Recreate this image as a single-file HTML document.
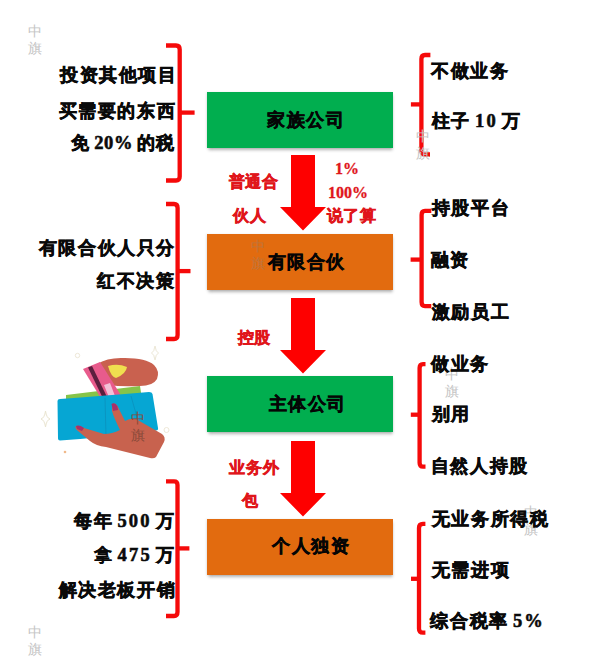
<!DOCTYPE html>
<html><head><meta charset="utf-8">
<style>
html,body{margin:0;padding:0;background:#fff;}
body{width:607px;height:662px;position:relative;overflow:hidden;font-family:"Liberation Sans",sans-serif;}
.t{position:absolute;white-space:nowrap;font-weight:bold;color:#0a0a0a;-webkit-text-stroke:0.6px currentColor;font-size:18px;line-height:20px;letter-spacing:1.6px;word-spacing:-2.5px;}
.red{color:#e0161b;font-size:16px;letter-spacing:0.8px;}
.bx{font-size:18px;letter-spacing:1.6px;color:#050505;-webkit-text-stroke:0.5px currentColor;}
.n{font-family:"Liberation Serif",serif;font-weight:bold;letter-spacing:2.2px;font-size:18.5px;-webkit-text-stroke:0.55px currentColor;}
.red .n{letter-spacing:0;font-size:16px;-webkit-text-stroke:0.3px currentColor;}
.box{position:absolute;left:207px;width:186px;height:56px;box-shadow:0 2.5px 3px -0.5px rgba(0,0,0,0.3),-1px 0 2px rgba(0,0,0,0.08);}
.g{background:#01ae4f;}
.o{background:#e26b0f;}
.wm{position:absolute;font-size:14px;line-height:17px;color:#c4c4c4;font-family:"Liberation Serif",serif;}
.wo{color:#c0743a;}
.wb{color:#8a4a3a;}
svg{position:absolute;left:0;top:0;}
</style></head><body>
<div class="box g" style="top:92px"></div>
<div class="box o" style="top:234px"></div>
<div class="box g" style="top:376px"></div>
<div class="box o" style="top:519px"></div>

<svg width="607" height="662" viewBox="0 0 607 662">
  <g fill="#fe0000">
    <path d="M291 155H315V207H326L303 230.5L280 207H291Z"/>
    <path d="M291 298H315V350H326L303 373.5L280 350H291Z"/>
    <path d="M291 441H315V493H326L303 516.5L280 493H291Z"/>
  </g>
  <g fill="none" stroke="#f50a0a" stroke-width="4.3" stroke-linejoin="round" stroke-linecap="butt">
    <path d="M166 45.5H176Q179.7 45.5 179.7 49.5V176.5Q179.7 180.5 176 180.5H166"/>
    <path d="M179.7 112.6H194.6"/>
    <path d="M166 204H174Q177.6 204 177.6 208V335Q177.6 339 174 339H166"/>
    <path d="M177.6 271.1H190.5"/>
    <path d="M166 481.4H174Q177.5 481.4 177.5 485V612Q177.5 616 174 616H166"/>
    <path d="M177.5 548.4H189.4"/>
    <path d="M430.4 55H425Q421.4 55 421.4 59V150.5Q421.4 154.5 425 154.5H430"/>
    <path d="M421.4 104.4H410.9"/>
    <path d="M431.3 210.9H425Q421.6 210.9 421.6 215V302Q421.6 306.1 425 306.1H431.3"/>
    <path d="M421.6 259.6H410.6"/>
    <path d="M425.5 364.1H423Q419.6 364.1 419.6 368V462.7Q419.6 466.7 423 466.7H425.5"/>
    <path d="M419.6 414.7H410.8"/>
    <path d="M425.4 523.8H423Q419 523.8 419 528V628.7Q419 632.7 423 632.7H425.4"/>
    <path d="M419 578.8H411"/>
  </g>
</svg>

<svg width="607" height="662" viewBox="0 0 607 662">
  <g>
    <!-- sparkles -->
    <path d="M45.5 411Q46.5 418 50 419Q46.5 420 45.5 427Q44.5 420 41 419Q44.5 418 45.5 411Z" fill="none" stroke="#e9e4cf" stroke-width="1"/>
    <path d="M155 346Q155.8 352 158.5 353Q155.8 354 155 360Q154.2 354 151.5 353Q154.2 352 155 346Z" fill="none" stroke="#ece7d6" stroke-width="1"/>
    <circle cx="77.5" cy="355.5" r="2.2" fill="none" stroke="#eee8d8" stroke-width="1"/>
    <circle cx="166.5" cy="430" r="2.5" fill="none" stroke="#eee8d8" stroke-width="1"/>
    <circle cx="65" cy="452" r="1.3" fill="#f0b98a"/>
    <!-- green money -->
    <path d="M66 395L140 386L142 399L66 402Z" fill="#86c449"/>
    <!-- top hand -->
    <path d="M97 364Q108 357 125 358Q146 358 154 365Q160 371 157 379Q153 386 140 386Q122 387 108 385L101 372Z" fill="#c9614f"/>
    <!-- card -->
    <path d="M83 369L100 362L120.5 394.5L102 400Z" fill="#e85b8c"/>
    <path d="M88 367.5L92 366L107.5 398L103.5 399.5Z" fill="#5b1f3e"/>
    <path d="M104 385L110 383L115 396L109 397.5Z" fill="#f3c0d8"/>
    <path d="M108 366Q118 363 127 367Q126 374 116 378Q111 377 108 366Z" fill="#f0df4f"/>
    <!-- wallet -->
    <path d="M60 399Q100 396 149 392Q152 392 152.5 394L158 428Q158.5 430 156 430.5Q110 437 60 440.5Q58 440.5 58 438.5L57.5 401Q57.5 399 60 399Z" fill="#06a6d3"/>
    <path d="M105 398L106 436" stroke="#0a90bd" stroke-width="0.8" fill="none"/>
    <path d="M131 396L140 428" stroke="#0a90bd" stroke-width="0.8" fill="none"/>
    <!-- bottom hand -->
    <path d="M112 404Q116 402 118 407L125 421Q130 418 136 419L162 434Q166 437 164 442L156 457Q154 459 150 458L106 447Q96 446 90 441L78 431Q74 428 76 426Q79 425 84 428L104 434Q112 434 120 430Q114 418 112 411Z" fill="#c8624e"/>
    <path d="M111.5 404Q115 401.5 117.5 406.5L118 410L113 411Z" fill="#a8306a"/>
    <path d="M76 426Q79 424.5 84 428L82 431L77 429Z" fill="#a8306a"/>
  </g>
</svg>
<div class="wm" style="left:28px;top:23px">中<br>旗</div>
<div class="wm wo" style="left:251px;top:238px">中<br>旗</div>
<div class="wm" style="left:416px;top:128px">中<br>旗</div>
<div class="wm" style="left:445px;top:366px">中<br>旗</div>
<div class="wm wb" style="left:131px;top:410px">中<br>旗</div>
<div class="wm" style="left:524px;top:504px">中<br>旗</div>
<div class="wm" style="left:28px;top:624px">中<br>旗</div>

<div class="t" style="left:60.1px;top:64.9px">投资其他项目</div>
<div class="t" style="left:58.6px;top:100.5px">买需要的东西</div>
<div class="t" style="left:70.5px;top:133.2px">免 <span class=n style="letter-spacing:0.6px;margin-right:3.5px">20%</span>的税</div>
<div class="t" style="left:38.9px;top:237.6px">有限合伙人只分</div>
<div class="t" style="left:97.2px;top:270.5px">红不决策</div>
<div class="t" style="left:74.1px;top:511.4px">每年 <span class=n>500</span> 万</div>
<div class="t" style="left:93.9px;top:545.2px"><span style="-webkit-text-stroke:0.15px">拿</span> <span class=n>475</span> 万</div>
<div class="t" style="left:58.6px;top:580.4px">解决老板开销</div>
<div class="t bx" style="left:267.3px;top:109.7px">家族公司</div>
<div class="t bx" style="left:267.7px;top:252.3px">有限合伙</div>
<div class="t bx" style="left:268.7px;top:394.3px">主体公司</div>
<div class="t bx" style="left:272.1px;top:536.3px">个人独资</div>
<div class="t red" style="left:228.6px;top:172.3px">普通合</div>
<div class="t red" style="left:233.1px;top:205.9px">伙人</div>
<div class="t red" style="left:334.9px;top:158.9px"><span class=n>1%</span></div>
<div class="t red" style="left:328.0px;top:182.8px"><span class=n>100%</span></div>
<div class="t red" style="left:326.5px;top:206.4px">说了算</div>
<div class="t red" style="left:237.6px;top:328.3px">控股</div>
<div class="t red" style="left:229.1px;top:457.8px">业务外</div>
<div class="t red" style="left:241.8px;top:491.2px">包</div>
<div class="t" style="left:431.3px;top:61.4px">不做业务</div>
<div class="t" style="left:431.8px;top:110.7px">柱子 <span class=n>10</span> 万</div>
<div class="t" style="left:431.9px;top:198.4px">持股平台</div>
<div class="t" style="left:430.9px;top:249.5px">融资</div>
<div class="t" style="left:431.9px;top:301.5px">激励员工</div>
<div class="t" style="left:431.3px;top:354.0px">做业务</div>
<div class="t" style="left:431.8px;top:404.4px">别用</div>
<div class="t" style="left:430.8px;top:456.2px">自然人持股</div>
<div class="t" style="left:431.9px;top:509.1px">无业务所得税</div>
<div class="t" style="left:431.9px;top:560.0px">无需进项</div>
<div class="t" style="left:430.4px;top:610.9px">综合税率 <span class=n>5%</span></div>
</body></html>
